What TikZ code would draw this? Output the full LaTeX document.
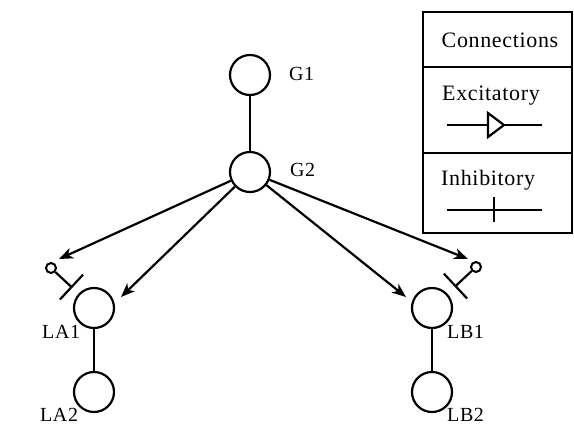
\documentclass[tikz,border=0pt]{standalone}
\usepackage{fontspec}
\setmainfont[LetterSpace=3]{Liberation Serif}
\usetikzlibrary{arrows.meta,calc}
\begin{document}
\begin{tikzpicture}[x=1pt,y=-1pt,
  neuron/.style={circle,draw,line width=2.2pt,minimum size=40pt,inner sep=0pt},
  dot/.style={circle,draw,line width=2pt,minimum size=10pt,inner sep=0pt},
  lbl/.style={font=\fontsize{20}{24}\selectfont,inner sep=0pt},
  leg/.style={font=\fontsize{22}{26}\selectfont,inner sep=0pt},
  conn/.style={line width=2.2pt},
  exc/.style={conn,-{Stealth[length=14pt,width=11pt,inset=4pt]}},
  legline/.style={line width=2.2pt}
]
\useasboundingbox (0,0) rectangle (574,432);
% neurons
\node[neuron] (G1) at (250,75) {};
\node[neuron] (G2) at (250,172) {};
\node[neuron] (LA1) at (94,308) {};
\node[neuron] (LA2) at (94,392) {};
\node[neuron] (LB1) at (432,308) {};
\node[neuron] (LB2) at (432,392) {};
% labels
\node[lbl,anchor=base west] (tG1) at (289,80) {G1};
\node[lbl,anchor=base west] (tG2) at (290,176) {G2};
\node[lbl,anchor=base west] (tLA1) at (42,338) {LA1};
\node[lbl,anchor=base west] (tLA2) at (40,421) {LA2};
\node[lbl,anchor=base west] (tLB1) at (447,338) {LB1};
\node[lbl,anchor=base west] (tLB2) at (447,421) {LB2};
% vertical links
\draw[conn] (G1) -- (G2);
\draw[conn] (LA1) -- (LA2);
\draw[conn] (LB1) -- (LB2);
% excitatory arrows
\coordinate (eA) at (121,297);
\coordinate (eB) at (406,297);
\draw[exc] (G2) -- (eA);
\draw[exc] (G2) -- (eB);
% inhibitory connections
\node[dot] (sA) at (51,268) {};
\node[dot] (sB) at (476,267) {};
\coordinate (iA) at (59,259);
\coordinate (iB) at (468,259);
\draw[exc] (G2) -- (iA);
\draw[exc] (G2) -- (iB);
\coordinate (bA) at ($(sA)!28pt!(LA1)$);
\coordinate (bB) at ($(sB)!28pt!(LB1)$);
\draw[conn] (sA) -- (bA);
\draw[conn] (sB) -- (bB);
\draw[conn] ($(bA)!17pt!90:(LA1)$) -- ($(bA)!17pt!-90:(LA1)$);
\draw[conn] ($(bB)!17pt!90:(LB1)$) -- ($(bB)!17pt!-90:(LB1)$);
% legend
\draw[legline] (423,12) rectangle (572,233);
\draw[legline] (423,67) -- (572,67);
\draw[legline] (423,153) -- (572,153);
\node[leg,anchor=base] (lgC) at (500,47) {Connections};
\node[leg,anchor=base west] (lgE) at (442,100) {Excitatory};
\node[leg,anchor=base west] (lgI) at (441,185) {Inhibitory};
\draw[legline] (447,125) -- (488,125);
\draw[legline,line join=miter] (488,113) -- (504,125) -- (488,137) -- cycle;
\draw[legline] (504,125) -- (542,125);
\draw[legline] (447,210) -- (542,210);
\draw[legline] (494,197) -- (494,222);
\end{tikzpicture}
\end{document}
